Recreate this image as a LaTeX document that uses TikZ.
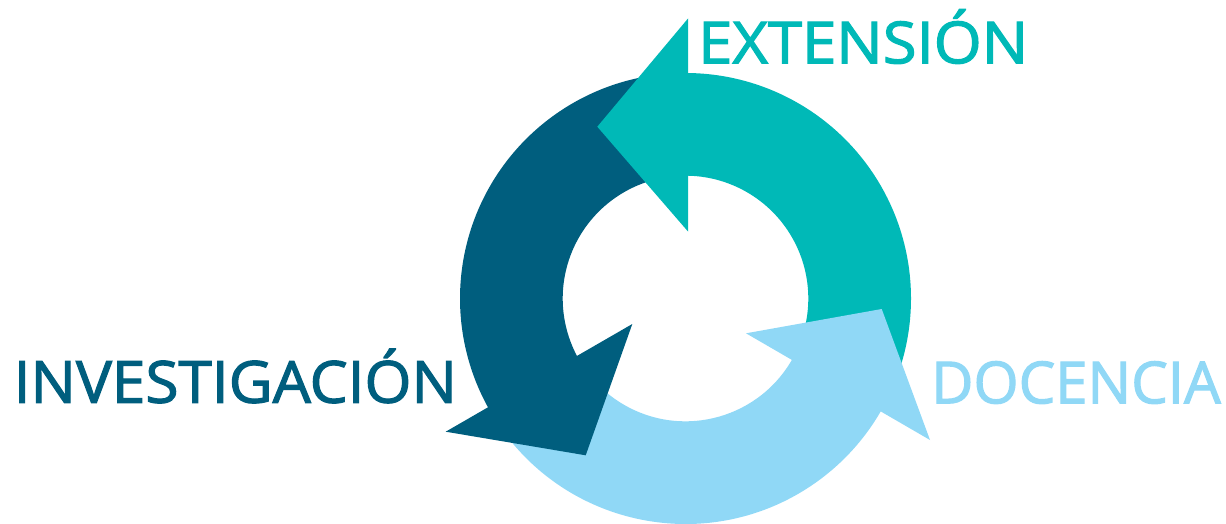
\documentclass[tikz,border=0pt]{standalone}
\usepackage{fontspec}
\setmainfont{Open Sans}
\newfontfamily\lblfont{Open Sans}[RawFeature={embolden=2}]
\usetikzlibrary{calc}
\definecolor{cteal}{RGB}{0,185,183}
\definecolor{cdark}{RGB}{0,94,126}
\definecolor{clight}{RGB}{144,216,246}
\begin{document}
\begin{tikzpicture}[x=1pt,y=-1pt,
  lbl/.style={inner sep=0pt, anchor=base west, font=\lblfont\fontsize{58}{60}\selectfont}]
\useasboundingbox (0,0) rectangle (1226,524);
\coordinate (C) at (685.5,298.5);
% bands (y is flipped, so angles are negated)
\newcommand{\myband}[3]{%
  \fill[#1] ($(C)+({-(#2)}:225.5)$) arc[start angle={-(#2)}, end angle={-(#3)}, radius=225.5]
    -- ($(C)+({-(#3)}:122.8)$) arc[start angle={-(#3)}, end angle={-(#2)}, radius=122.8] -- cycle;}
\myband{cteal}{-25}{90}
\myband{cdark}{95}{210}
\myband{clight}{215}{331}
% heads
\coordinate (ht1) at (688,18.5);
\coordinate (ht2) at (688,231.5);
\coordinate (htt) at (597.3,126.7);
\fill[cteal] (ht1) -- (htt) -- (ht2) -- cycle;
\coordinate (hd1) at (632.3,324);
\coordinate (hd2) at (445.7,431.7);
\coordinate (hdt) at (585.7,455.3);
\fill[cdark] (hd1) -- (hdt) -- (hd2) -- cycle;
\coordinate (hl1) at (746,333.3);
\coordinate (hl2) at (930,440);
\coordinate (hlt) at (881.7,309);
\fill[clight] (hl1) -- (hlt) -- (hl2) -- cycle;
% labels
\node[lbl, text=cteal, xscale=1.062, transform shape] (ext) at (698,63.3) {EXTENSIÓN};
\node[lbl, text=cdark, xscale=1.04, transform shape] (inv) at (13.5,402.7) {INVESTIGACIÓN};
\node[lbl, text=clight] (doc) at (931,403.3) {DOCENCIA};
\end{tikzpicture}
\end{document}
